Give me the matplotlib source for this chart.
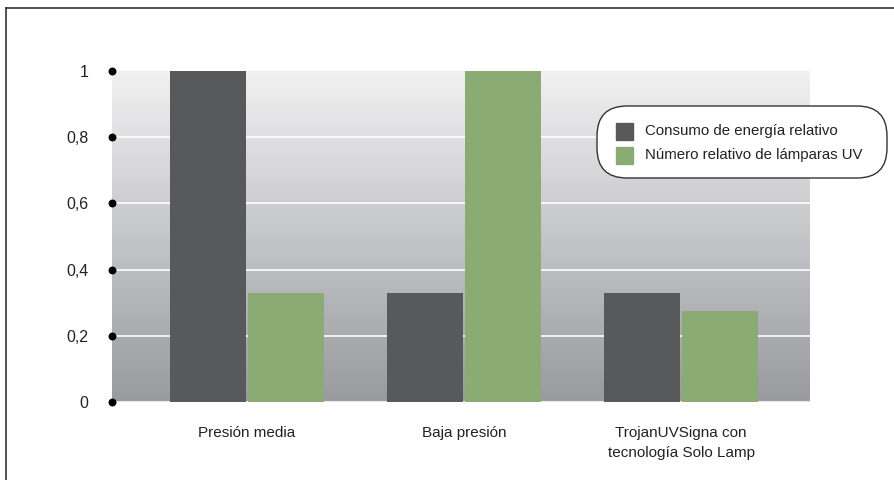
import matplotlib
matplotlib.use("Agg")
import matplotlib.pyplot as plt
import matplotlib.transforms as mtransforms
from matplotlib.patches import FancyBboxPatch
import numpy as np

plt.rcParams['font.family'] = ['Liberation Sans', 'DejaVu Sans']

categories = ["Presión media", "Baja presión", "TrojanUVSigna con\ntecnología Solo Lamp"]
energia = [1.0, 0.33, 0.33]
lamparas = [0.33, 1.0, 0.275]
series_names = ["Consumo de energía relativo", "Número relativo de lámparas UV"]
yticks = [0, 0.2, 0.4, 0.6, 0.8, 1.0]
ytick_labels = ["0", "0,2", "0,4", "0,6", "0,8", "1"]

dark = "#58595b"
green = "#8aab74"

fig = plt.figure(figsize=(8.95, 4.8), dpi=100)
ax = fig.add_axes([112 / 895, 1 - 402 / 480, 698 / 895, 331 / 480])

# gradient background
grad = np.linspace(0, 1, 256).reshape(-1, 1)
top = np.array([0.945, 0.945, 0.949])
bot = np.array([0.60, 0.604, 0.62])
img = top + (bot - top) * grad[:, :, None]
ax.imshow(img, extent=[0, 1, 0, 1], transform=ax.transAxes, aspect="auto", zorder=0)

x = np.arange(len(categories))
w = 0.35
ax.bar(x - 0.18, energia, w, color=dark, zorder=3, clip_on=False)
ax.bar(x + 0.18, lamparas, w, color=green, zorder=3, clip_on=False)

ax.set_xlim(-0.622, 2.594)
ax.set_ylim(0, 1.0)

for yv in yticks[1:-1]:
    ax.axhline(yv, color="white", lw=1.2, zorder=1)
ax.axhline(0, color="#e6e6e6", lw=1.5, zorder=1)

for s in ax.spines.values():
    s.set_visible(False)

ax.set_yticks(yticks)
ax.set_yticklabels(ytick_labels, fontsize=11.5, color="#222222")
ax.tick_params(axis="y", length=0, pad=17)
trans = mtransforms.blended_transform_factory(ax.transAxes, ax.transData)
ax.scatter([0] * len(yticks), yticks, s=22, color="black", transform=trans, clip_on=False, zorder=5)

ax.set_xticks(x)
ax.set_xticklabels(categories, fontsize=11, color="#222222", linespacing=1.55)
ax.tick_params(axis="x", length=0, pad=17)

# legend box (inches)
ins = fig.dpi_scale_trans
fig.patches.append(FancyBboxPatch((5.97, 3.02), 2.9, 0.72,
                                  boxstyle="round,pad=0,rounding_size=0.3",
                                  transform=ins, facecolor="white",
                                  edgecolor="#333333", lw=1.0, zorder=10))
for i, (name, c) in enumerate(zip(series_names, [dark, green])):
    yy = 4.8 - (131 + 24 * i) / 100
    fig.patches.append(plt.Rectangle((6.16, yy - 0.085), 0.17, 0.17,
                                     transform=ins, color=c, zorder=11))
    fig.text(6.45, yy, name, fontsize=10.8, va="center", color="#222222",
             transform=ins, zorder=12)

# frame lines
fig.add_artist(plt.Line2D([6 / 895, 6 / 895], [0, 1 - 8 / 480], color="#333333", lw=1.2,
                          transform=fig.transFigure))
fig.add_artist(plt.Line2D([6 / 895, 1], [1 - 8 / 480, 1 - 8 / 480], color="#333333", lw=1.2,
                          transform=fig.transFigure))

fig.savefig("out.png", dpi=100)
